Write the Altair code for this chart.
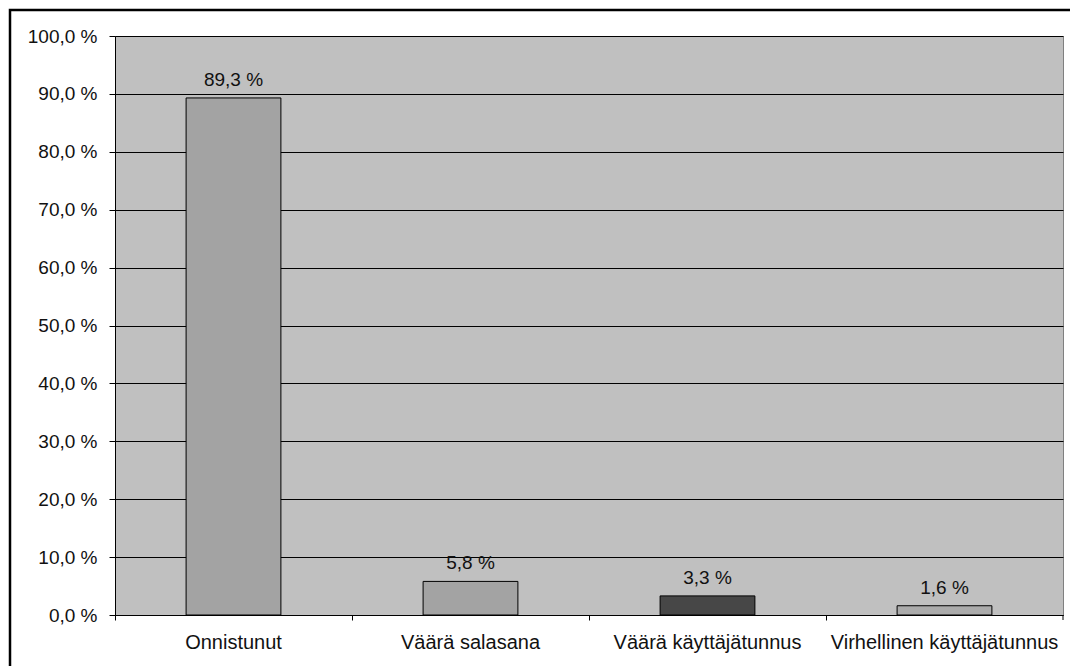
import altair as alt
import pandas as pd

# Login attempt outcomes and their share of all attempts (%)
categories = ["Onnistunut", "Väärä salasana", "Väärä käyttäjätunnus", "Virhellinen käyttäjätunnus"]
shares = [89.3, 5.8, 3.3, 1.6]
bar_colors = ["#A3A3A3", "#A3A3A3", "#474747", "#ABABAB"]
y_ticks = [0, 10, 20, 30, 40, 50, 60, 70, 80, 90, 100]

df = pd.DataFrame({"tulos": categories, "osuus": shares})

W, H = 948, 579
FONT = "Liberation Sans"

x_enc = alt.X(
    "tulos:N",
    sort=categories,
    scale=alt.Scale(paddingInner=0, paddingOuter=0),
    axis=alt.Axis(
        title=None, labelAngle=0, grid=False, bandPosition=0,
        domainColor="black", tickColor="black", tickSize=5,
        labelPadding=12, labelFontSize=20, labelFont=FONT, labelColor="#111",
        labelLimit=400,
    ),
)
y_enc = alt.Y(
    "osuus:Q",
    scale=alt.Scale(domain=[0, 100], nice=False),
    axis=alt.Axis(
        title=None, values=y_ticks, grid=True, gridColor="black", gridWidth=1,
        domainColor="black", tickColor="black", tickSize=6, labelPadding=12,
        labelFontSize=19, labelFont=FONT, labelColor="#111",
        labelExpr="replace(format(datum.value, '.1f'), '.', ',') + ' %'",
    ),
)

base = alt.Chart(df)

bars = base.mark_bar(width={"band": 0.4}, stroke="black", strokeWidth=1).encode(
    x=x_enc,
    y=y_enc,
    color=alt.Color("tulos:N", scale=alt.Scale(domain=categories, range=bar_colors), legend=None),
)

labels = base.mark_text(
    baseline="bottom", dy=-8, fontSize=19, font=FONT, color="#111"
).transform_calculate(
    teksti="replace(format(datum.osuus, '.1f'), '.', ',') + ' %'"
).encode(
    x=alt.X("tulos:N", sort=categories),
    y="osuus:Q",
    text="teksti:N",
)

# closing tick at the right end of the category axis
end_tick = alt.Chart(pd.DataFrame({"k": [0]})).mark_rule(color="black", strokeWidth=1).encode(
    x=alt.value(W), y=alt.value(H), y2=alt.value(H + 5)
)

# outer frame around the whole chart
frame = alt.Chart(pd.DataFrame({"k": [0]})).mark_rect(
    fill=None, stroke="black", strokeWidth=2.5
).encode(
    x=alt.value(-105), y=alt.value(-26), x2=alt.value(W + 40), y2=alt.value(H + 80)
)

chart = alt.layer(bars, labels, end_tick, frame).properties(
    width=W, height=H,
    background="white",
    padding={"left": 115, "top": 36, "right": 7, "bottom": 51},
    autosize=alt.AutoSizeParams(type="none"),
).configure_view(
    fill="#C0C0C0", stroke="#808080", strokeWidth=1
)

chart.save("out.html", embed_options={"renderer": "svg", "actions": False})
